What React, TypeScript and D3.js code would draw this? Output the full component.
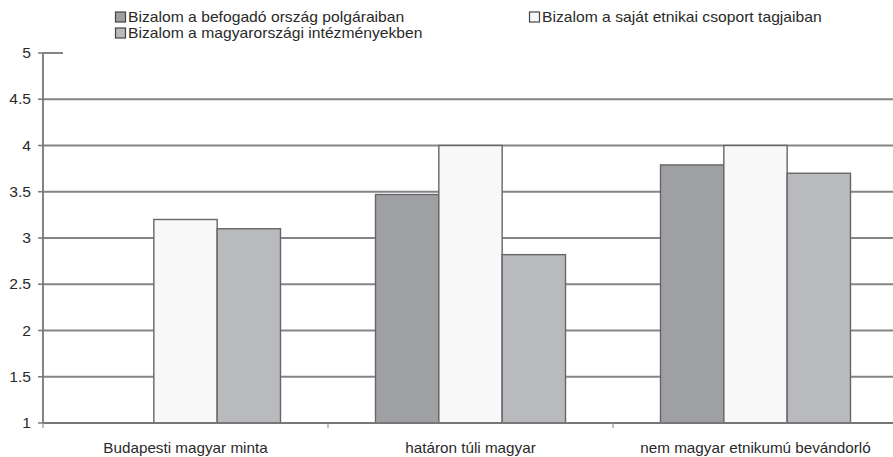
import React, { useRef, useEffect } from 'react';
import * as d3 from 'd3';

const categories = ['Budapesti magyar minta', 'határon túli magyar', 'nem magyar etnikumú bevándorló'];
const seriesNames = [
    'Bizalom a befogadó ország polgáraiban',
    'Bizalom a saját etnikai csoport tagjaiban',
    'Bizalom a magyarországi intézményekben',
];
const hostCitizens = [null, 3.47, 3.79];
const ownGroup = [3.2, 4.0, 4.0];
const institutions = [3.1, 2.82, 3.7];
const yTicks = [1, 1.5, 2, 2.5, 3, 3.5, 4, 4.5, 5];

const colors = ['#9ea0a4', '#f8f8f8', '#b9babd'];
const FONT = "'Liberation Sans', Arial, sans-serif";
const SX = 1.12; // glyphs in the source look slightly stretched

const App = () => {
    const svgRef = useRef<SVGSVGElement>(null);

    useEffect(() => {
        document.body.style.margin = '0';
        const W = 893, H = 457;
        const svg = d3.select(svgRef.current);
        svg.selectAll('*').remove();
        svg.attr('width', W).attr('height', H);

        svg.append('rect').attr('width', W).attr('height', H).attr('fill', '#ffffff');

        const left = 43, right = 898, top = 53, bottom = 423;

        const x = d3.scaleBand<string>().domain(categories).range([left, right]);
        const xs = d3.scaleBand<number>().domain([0, 1, 2]).range([0, x.bandwidth()]).paddingOuter(0.75);
        const y = d3.scaleLinear().domain([1, 5]).range([bottom, top]);

        // gridlines
        svg.append('g')
            .selectAll('line')
            .data(yTicks.filter(t => t > 1))
            .enter()
            .append('line')
            .attr('x1', left)
            .attr('x2', right)
            .attr('y1', d => y(d))
            .attr('y2', d => y(d))
            .attr('stroke', '#858585')
            .attr('stroke-width', 1.8);

        // bars
        const series = [hostCitizens, ownGroup, institutions];
        series.forEach((vals, si) => {
            svg.append('g')
                .selectAll('rect')
                .data(vals.map((v, i) => ({ v, c: categories[i] })).filter(d => d.v != null))
                .enter()
                .append('rect')
                .attr('x', d => (x(d.c) as number) + (xs(si) as number))
                .attr('y', d => y(d.v as number))
                .attr('width', xs.bandwidth())
                .attr('height', d => y(1) - y(d.v as number))
                .attr('fill', colors[si])
                .attr('stroke', '#666')
                .attr('stroke-width', 1.4);
        });

        // legend background covers the top gridline
        svg.append('rect')
            .attr('x', 63).attr('y', 0)
            .attr('width', W - 63).attr('height', 55)
            .attr('fill', '#ffffff');

        // y axis
        const yAxis = svg.append('g');
        yAxis.append('line')
            .attr('x1', left).attr('x2', left)
            .attr('y1', y(5)).attr('y2', y(1))
            .attr('stroke', '#777').attr('stroke-width', 1.8);
        yAxis.selectAll('line.tick')
            .data(yTicks)
            .enter()
            .append('line')
            .attr('class', 'tick')
            .attr('x1', left - 5).attr('x2', left)
            .attr('y1', d => y(d)).attr('y2', d => y(d))
            .attr('stroke', '#777').attr('stroke-width', 1.5);
        // short stub at the top
        yAxis.append('line')
            .attr('x1', left).attr('x2', 63)
            .attr('y1', y(5)).attr('y2', y(5))
            .attr('stroke', '#858585').attr('stroke-width', 1.5);
        yAxis.selectAll('text')
            .data(yTicks)
            .enter()
            .append('text')
            .attr('transform', d => `translate(31,${y(d) + 5}) scale(${SX},1)`)
            .attr('text-anchor', 'end')
            .style('font-family', FONT)
            .style('font-size', '14px')
            .style('fill', '#2a2a2a')
            .text(d => String(d));

        // x axis
        const xAxis = svg.append('g');
        xAxis.append('line')
            .attr('x1', left).attr('x2', right)
            .attr('y1', bottom).attr('y2', bottom)
            .attr('stroke', '#777').attr('stroke-width', 1.8);
        xAxis.selectAll('line.tick')
            .data(categories)
            .enter()
            .append('line')
            .attr('class', 'tick')
            .attr('x1', d => x(d) as number).attr('x2', d => x(d) as number)
            .attr('y1', bottom).attr('y2', bottom + 5)
            .attr('stroke', '#999').attr('stroke-width', 1.2);
        xAxis.selectAll('text')
            .data(categories)
            .enter()
            .append('text')
            .attr('transform', d => `translate(${(x(d) as number) + x.bandwidth() / 2},${bottom + 30}) scale(1.09,1)`)
            .attr('text-anchor', 'middle')
            .style('font-family', FONT)
            .style('font-size', '14px')
            .style('fill', '#2a2a2a')
            .text(d => d);

        // legend
        const legendPos = [
            { x: 115, y: 17 },
            { x: 529, y: 17 },
            { x: 115, y: 33 },
        ];
        seriesNames.forEach((name, i) => {
            const p = legendPos[i];
            const g = svg.append('g').attr('transform', `translate(${p.x},${p.y})`);
            g.append('rect')
                .attr('x', 0.5).attr('y', -5)
                .attr('width', 10).attr('height', 10)
                .attr('fill', colors[i])
                .attr('stroke', '#444').attr('stroke-width', 1.2);
            g.append('text')
                .attr('transform', `translate(13,5) scale(${SX},1)`)
                .style('font-family', FONT)
                .style('font-size', '14px')
                .style('fill', '#2a2a2a')
                .text(name);
        });
    }, []);

    return <svg ref={svgRef} style={{ display: 'block' }}></svg>;
};

export default App;
